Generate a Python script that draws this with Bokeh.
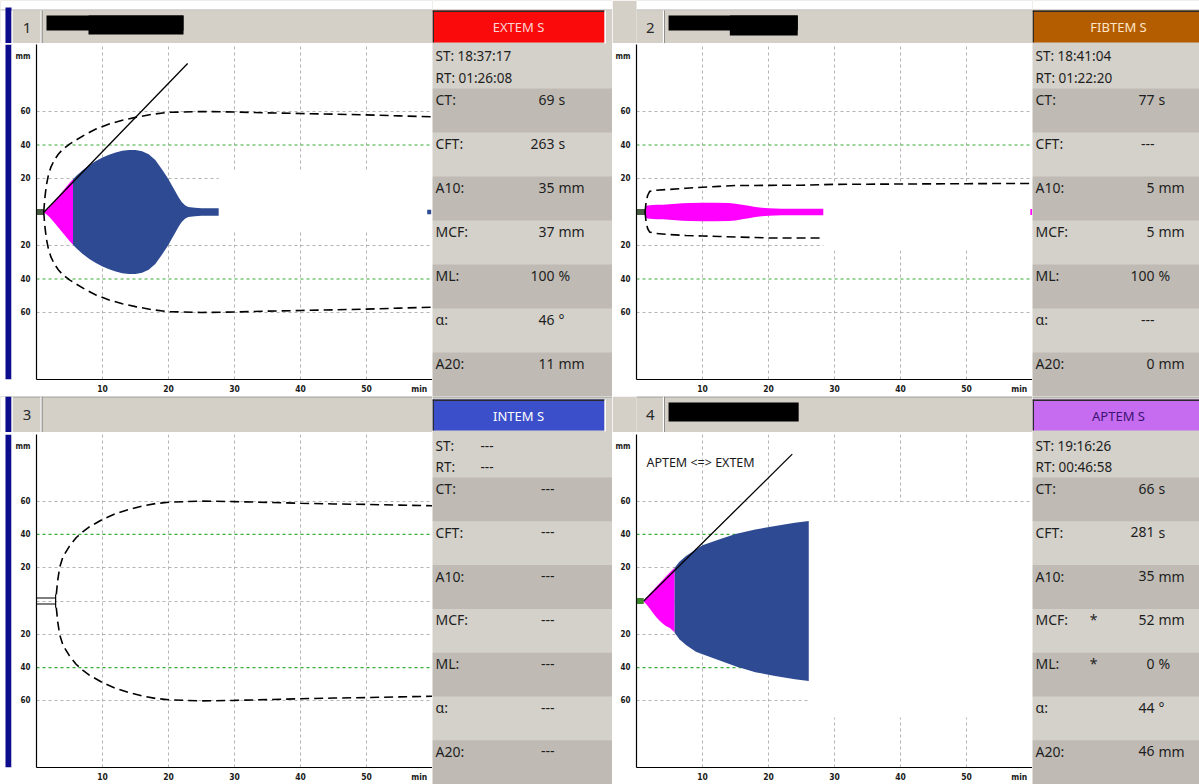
from bokeh.plotting import figure
from bokeh.layouts import row, column
from bokeh.models import Range1d, FixedTicker, Span
from bokeh.core.properties import value
from bokeh.embed import file_html
from bokeh.resources import INLINE

# ---------------- data ----------------
x_ticks = [10, 20, 30, 40, 50]
x_unit_pos = 58
y_ticks = [-60, -40, -20, 20, 40, 60]
y_tick_labels = {-60: "60", -40: "40", -20: "20", 20: "20", 40: "40", 60: "60"}
y_unit_pos = 93
green_levels = [-40, 40]

param_labels = ["CT:", "CFT:", "A10:", "MCF:", "ML:", "\u03b1:", "A20:"]

# EXTEM S
ext_name = "EXTEM S"
ext_st, ext_rt = "18:37:17", "01:26:08"
ext_vals = ["69", "263", "35", "37", "100", "46", "11"]
ext_units = ["s", "s", "mm", "mm", "%", "\u00b0", "mm"]
ext_stars = ["", "", "", "", "", "", ""]
ext_ct_s, ext_cft_s = 69, 263
ext_clot_t = [1.15, 1.5, 2.0, 2.5, 3.0, 3.5, 4.0, 4.5, 5.0, 5.53]
ext_clot_a = [0.5, 1.3, 3.1, 5.3, 7.7, 10.1, 12.5, 14.9, 17.3, 19.5]
ext_firm_t = [5.53, 6, 7, 8, 9, 10, 11, 12, 13, 14, 15, 16, 17, 18, 19, 20, 20.5, 21,
              21.5, 22, 22.5, 23, 24, 25, 26, 27, 27.6]
ext_firm_a = [19.5, 21.5, 25, 28, 30.5, 32.5, 34.2, 35.5, 36.5, 37, 37, 36.3, 34.5, 31,
              25.5, 19.5, 16, 12.5, 9, 6, 4, 3, 2.5, 2.2, 2.2, 2.2, 2.2]
ext_dot_t = [59.5]
ext_alpha_t = [1.15, 22.9]
ext_alpha_a = [0, 88.7]
ext_ref_t = [1.1, 1.25, 1.5, 1.8, 2.2, 2.7, 3.3, 4.0, 5.0, 6.0, 7.5, 9, 11, 13, 15, 17.5,
             20, 25, 30, 35, 40, 45, 50, 55, 60]
ext_ref_a = [0, 8, 16, 22, 27, 31, 34.5, 37.5, 40.5, 43, 46.5, 49.5, 52.5, 54.8, 56.5,
             58.3, 59.5, 60, 59.7, 59.2, 58.8, 58.4, 58, 57.4, 56.8]
ext_mask = [27.6, 60, -12, 25]

# FIBTEM S
fib_name = "FIBTEM S"
fib_st, fib_rt = "18:41:04", "01:22:20"
fib_vals = ["77", "---", "5", "5", "100", "---", "0"]
fib_units = ["s", "", "mm", "mm", "%", "", "mm"]
fib_stars = ["", "", "", "", "", "", ""]
fib_ct_s = 77
fib_clot_t = [1.28, 1.5, 2, 3, 4, 5, 6, 7, 8, 10, 12, 14, 15, 16, 17, 18, 19, 20, 22, 25, 28.3]
fib_clot_a = [2.5, 3.8, 4.1, 4.3, 4.4, 4.6, 4.9, 5.2, 5.4, 5.5, 5.5, 5.3, 5.0, 4.4, 3.7,
              3.0, 2.5, 2.2, 2.0, 2.0, 2.0]
fib_dot_t = [59.85]
fib_ref_hi_t = [1.3, 1.45, 1.7, 2.0, 3, 5, 7.5, 10, 12.5, 15, 20, 25, 30, 35, 40, 45, 50, 55, 60]
fib_ref_hi = [0, 6, 10, 12.3, 13, 13.5, 14.2, 14.8, 15.3, 15.8, 15.9, 16, 16.5, 16.6, 16.7,
              16.8, 16.9, 17, 17]
fib_ref_lo_t = [1.3, 1.45, 1.7, 2.0, 3, 5, 7.5, 10, 12.5, 15, 20, 25, 28.3]
fib_ref_lo = [0, -6, -10, -12, -12.8, -13.5, -14, -14.3, -14.6, -14.9, -15.5, -15.5, -15.5]
fib_mask = [28.3, 60, -23, 18]

# INTEM S
int_name = "INTEM S"
int_vals = ["---"] * 7
int_units = [""] * 7
int_stars = [""] * 7
int_base_t = [0, 2.9]
int_base_a = 1.8
int_ref_t = [3.0, 3.2, 3.5, 4, 5, 6, 7, 8, 10, 12, 14, 16, 18, 20, 25, 30, 35, 40, 45, 50, 55, 60]
int_ref_a = [4, 12, 20, 26.5, 33, 38, 41.5, 44.5, 49, 52.5, 55, 57, 58.5, 59.3, 60, 59.7,
             59.2, 58.7, 58.3, 58, 57.6, 57.2]

# APTEM S
apt_name = "APTEM S"
apt_st, apt_rt = "19:16:26", "00:46:58"
apt_vals = ["66", "281", "35", "52", "0", "44", "46"]
apt_units = ["s", "s", "mm", "mm", "%", "\u00b0", "mm"]
apt_stars = ["", "", "", "*", "*", "", ""]
apt_ct_s, apt_cft_s = 66, 281
apt_clot_t = [1.1, 1.5, 2, 2.5, 3, 3.5, 4, 4.5, 5, 5.78]
apt_clot_hi = [0.5, 2.2, 4.3, 6.4, 8.5, 10.7, 12.8, 14.9, 17.0, 20.0]
apt_clot_lo = [-0.5, -2.0, -4.5, -7.2, -9.7, -11.8, -13.7, -15.1, -16.1, -18.8]
apt_firm_t = [5.78, 6.5, 7.5, 9, 10, 12.5, 15, 18, 21, 24, 26.1]
apt_firm_hi = [20, 23.5, 27, 31, 33.5, 37, 40.3, 43, 45, 47, 48]
apt_firm_lo = [-19, -23, -26.5, -30.5, -32, -35.6, -39.2, -42.8, -45, -47, -48]
apt_alpha_t = [1.1, 23.6]
apt_alpha_a = [0, 88.2]
apt_note = "APTEM <=> EXTEM"
apt_note_pos = [1.5, 83]
apt_mask = [26.1, 60, -70, 59.5]

# ---------------- style ----------------
SIDE_FONT = "'Noto Sans', 'Open Sans', sans-serif"
TICK_FONT = "'DejaVu Sans Condensed', 'DejaVu Sans', sans-serif"
HDR_GRAY = "#d4d0c8"
LIGHT = "#d4d1ca"
DARK = "#bfbbb4"
NAVY = "#0c0c8c"
BLUE = "#2e4a93"
MAGENTA = "#ff00ff"
GREEN_GRID = "#3aaa3a"


def pix_fig(w, h, bg):
    return figure(width=w, height=h, x_range=Range1d(0, w), y_range=Range1d(h, 0),
                  x_axis_type=None, y_axis_type=None, toolbar_location=None,
                  output_backend="svg", title=None, min_border=0,
                  background_fill_color=bg, border_fill_color=bg, outline_line_color=None)


def box(p, l, r, t, b, c):
    p.quad(left=[l], right=[r], top=[t], bottom=[b], fill_color=c, line_color=None)


def txt(p, x, y, s, size="14px", color="#1e1e1e", align="left", font=SIDE_FONT):
    p.text(x=[x], y=[y], text=[s], text_font=value(font), text_font_size=size,
           text_color=color, text_align=align, text_baseline="middle")


def header(w, h, num, top_row, left_quad, redact):
    p = pix_fig(w, h, HDR_GRAY)
    y0 = 0
    if top_row:
        box(p, 0, w, 0, 9, "white")
        box(p, 0, w, 9, 10, "#c4c4c4")
        y0 = 10
    else:
        box(p, 0, w, 0, 1, "#9a9a9a")
    if left_quad:
        box(p, 0, 5, y0, h, "white")
        box(p, 5, 11, y0 - 3 if top_row else 0, h, NAVY)
        box(p, 11, 12.5, y0, h, "#f4f4f4")
        c0, c1 = 13, 40
    else:
        c0, c1 = 1, 28
    box(p, c1, c1 + 1.2, y0, h, "white")
    box(p, c1 + 1.2, c1 + 2.2, y0, h, "#8a8a8a")
    txt(p, (c0 + c1) / 2, (y0 + h) / 2 + 0.5, num, size="15px", color="#2a2a2a", align="center")
    for (l, r, t, b) in redact:
        box(p, l, r, t, b, "black")
    return p


def strip(h):
    p = pix_fig(12, h, "white")
    box(p, 5, 11, 0, h, NAVY)
    box(p, 11, 12, 0, h, "#f4f4f4")
    return p


def side(w, h, top_row, bcol, blabel, btxt, st, rt, vals, units, stars):
    p = pix_fig(w, h, LIGHT)
    if top_row:
        box(p, 0, w, 0, 9, "white")
        box(p, 0, w, 9, 10, "#c4c4c4")
        by0, by1, st_y, rt_y, band0, bh = 10, 42, 55, 77, 88, 44.0
    else:
        box(p, 0, w, 0, 1, "#9a9a9a")
        by0, by1, st_y, rt_y, band0, bh = 3, 34, 49, 70, 81, 43.8
    box(p, 0, 172, by0, by1, bcol)
    box(p, 0, 1.5, by0, by1, "#2a2a2a")
    box(p, 0, 172, by0, by0 + 1.5, "#2a2a2a")
    if w > 172:
        box(p, 172, 173.5, by0, by1 + 1, "white")
        box(p, 173.5, w, by0, by1 + 1, HDR_GRAY)
    txt(p, 86, (by0 + by1) / 2 + 0.5, blabel, size="13px", color=btxt, align="center")
    for i in range(7):
        y = band0 + i * bh
        if i % 2 == 0:
            box(p, 0, w, y, y + bh, DARK)
        ty = y + 11
        txt(p, 3, ty, param_labels[i])
        txt(p, 122, ty, vals[i], align="right")
        if units[i]:
            txt(p, 126, ty, units[i])
        if stars[i]:
            txt(p, 61, ty, stars[i], align="center")
    if st:
        txt(p, 3, st_y, "ST: " + st, size="13.5px")
        txt(p, 3, rt_y, "RT: " + rt, size="13.5px")
    else:
        txt(p, 3, st_y, "ST:", size="13.5px")
        txt(p, 3, rt_y, "RT:", size="13.5px")
        txt(p, 48, st_y, "---", size="13.5px")
        txt(p, 48, rt_y, "---", size="13.5px")
    return p


def trace_fig(h, btop, bbot):
    p = figure(width=420, height=h, x_range=Range1d(0, 60), y_range=Range1d(-100, 100),
               toolbar_location=None, output_backend="svg", title=None,
               min_border_left=20, min_border_right=0, min_border_top=btop,
               min_border_bottom=bbot, background_fill_color="white",
               border_fill_color="white", outline_line_color=None)
    xa, ya = p.xaxis[0], p.yaxis[0]
    xa.ticker = FixedTicker(ticks=x_ticks + [x_unit_pos])
    xa.major_label_overrides = {x_unit_pos: "min"}
    ya.ticker = FixedTicker(ticks=y_ticks + [y_unit_pos])
    ov = dict(y_tick_labels)
    ov[y_unit_pos] = "mm"
    ya.major_label_overrides = ov
    for a in (xa, ya):
        a.major_tick_in = 0
        a.major_tick_out = 0
        a.minor_tick_in = 0
        a.minor_tick_out = 0
        a.axis_line_color = "black"
        a.axis_line_width = 1.2
        a.major_label_text_font = TICK_FONT
        a.major_label_text_font_style = "bold"
        a.major_label_text_color = "#1a1a1a"
    xa.major_label_text_font_size = "8.5px"
    ya.major_label_text_font_size = "8px"
    xa.major_label_standoff = 4
    ya.major_label_standoff = 6
    p.xgrid.ticker = FixedTicker(ticks=x_ticks)
    p.ygrid.ticker = FixedTicker(ticks=[-60, -20, 0, 20, 60])
    for g in (p.xgrid[0], p.ygrid[0]):
        g.grid_line_color = "#b4b4b4"
        g.grid_line_dash = "3 3"
        g.grid_line_width = 1
    # green reference levels below the traces
    for lv in green_levels:
        p.add_layout(Span(location=lv, dimension="width", line_color=GREEN_GRID,
                          line_dash="3 3", line_width=1.2, level="underlay"))
    return p


def mask(p, m):
    p.quad(left=[m[0]], right=[m[1]], bottom=[m[2]], top=[m[3]], fill_color="white",
           line_color=None)


def neg(a):
    return [-v for v in a]


DASH = dict(line_color="black", line_width=1.6, line_dash="9 5")

# ---------- panel 1: EXTEM ----------
p1 = trace_fig(353, 1, 17)
mask(p1, ext_mask)
p1.quad(left=[0], right=[ext_ct_s / 60], bottom=[-1.8], top=[1.8], fill_color="#4b5e44", line_color=None)
p1.varea(x=ext_clot_t, y1=neg(ext_clot_a), y2=ext_clot_a, fill_color=MAGENTA)
p1.varea(x=ext_firm_t, y1=neg(ext_firm_a), y2=ext_firm_a, fill_color=BLUE)
p1.rect(x=ext_dot_t, y=[0], width=0.6, height=2.8, fill_color=BLUE, line_color=None)
p1.line(ext_ref_t, ext_ref_a, **DASH)
p1.line(ext_ref_t, neg(ext_ref_a), **DASH)
p1.line(ext_alpha_t, ext_alpha_a, line_color="black", line_width=1.3)

# ---------- panel 2: FIBTEM ----------
p2 = trace_fig(353, 1, 17)
mask(p2, fib_mask)
p2.quad(left=[0], right=[fib_ct_s / 60], bottom=[-1.8], top=[1.8], fill_color="#4b5e44", line_color=None)
p2.varea(x=fib_clot_t, y1=neg(fib_clot_a), y2=fib_clot_a, fill_color=MAGENTA)
p2.rect(x=fib_dot_t, y=[0], width=0.35, height=3.6, fill_color=MAGENTA, line_color=None)
p2.line(fib_ref_hi_t, fib_ref_hi, **DASH)
p2.line(fib_ref_lo_t, fib_ref_lo, **DASH)

# ---------- panel 3: INTEM ----------
p3 = trace_fig(352, 2, 16)
p3.line(int_base_t, [int_base_a, int_base_a], line_color="black", line_width=1.2)
p3.line(int_base_t, [-int_base_a, -int_base_a], line_color="black", line_width=1.2)
p3.line([int_base_t[1], int_base_t[1]], [-int_ref_a[0], int_ref_a[0]], line_color="black", line_width=1.2)
p3.line(int_ref_t, int_ref_a, **DASH)
p3.line(int_ref_t, neg(int_ref_a), **DASH)

# ---------- panel 4: APTEM ----------
p4 = trace_fig(352, 2, 16)
mask(p4, apt_mask)
p4.quad(left=[0], right=[apt_ct_s / 60], bottom=[-1.8], top=[1.8], fill_color="#3f8a2e", line_color=None)
p4.varea(x=apt_clot_t, y1=apt_clot_lo, y2=apt_clot_hi, fill_color=MAGENTA)
p4.varea(x=apt_firm_t, y1=apt_firm_lo, y2=apt_firm_hi, fill_color=BLUE)
p4.line(apt_alpha_t, apt_alpha_a, line_color="black", line_width=1.3)
p4.text(x=[apt_note_pos[0]], y=[apt_note_pos[1]], text=[apt_note], text_font=value(SIDE_FONT),
        text_font_size="12.5px", text_color="#1a1a1a", text_baseline="middle", text_align="left")

# ---------- headers / side panels ----------
h1 = header(432, 43, "1", True, True, [(46, 183, 15, 30), (88, 183, 15, 34)])
h2 = header(420, 43, "2", True, False, [(34, 171, 15, 30), (99, 171, 15, 35)])
h3 = header(432, 36, "3", False, True, [])
h4 = header(420, 36, "4", False, False, [(34, 172, 6, 25)])

s1 = side(180, 396, True, "#fa0a0a", ext_name, "#ffd4d4", ext_st, ext_rt, ext_vals, ext_units, ext_stars)
s2 = side(167, 396, True, "#b35c00", fib_name, "#ffe6c8", fib_st, fib_rt, fib_vals, fib_units, fib_stars)
s3 = side(180, 388, False, "#3a4fc9", int_name, "#ffffff", "", "", int_vals, int_units, int_stars)
s4 = side(167, 388, False, "#c56cf0", apt_name, "#3c1470", apt_st, apt_rt, apt_vals, apt_units, apt_stars)

q1 = row(column(h1, row(strip(353), p1)), s1)
q2 = row(column(h2, p2), s2)
q3 = row(column(h3, row(strip(352), p3)), s3)
q4 = row(column(h4, p4), s4)
page = column(row(q1, q2), row(q3, q4))

open("out.html", "w").write(file_html(page, INLINE))
